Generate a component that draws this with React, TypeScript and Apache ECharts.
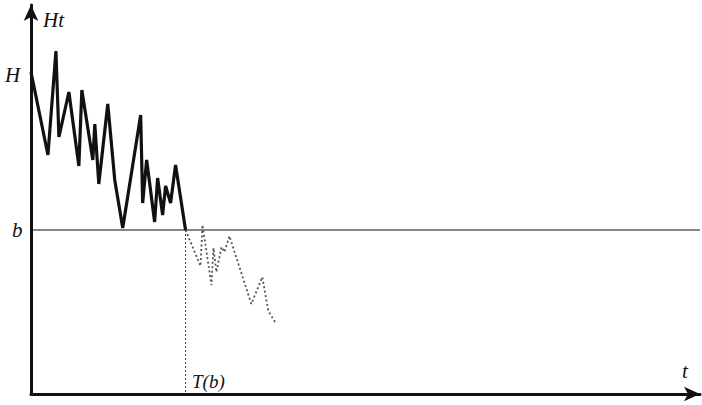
import React, { useEffect, useRef } from "react";
import * as echarts from "echarts";

// time (t) and level values
const pathT = [0, 17, 25, 28, 38, 48, 51, 62, 64, 68, 77, 84, 92, 110, 112, 116, 124, 127, 132, 135, 140, 145, 155];
const pathH = [322, 239, 343, 257, 302, 228, 304, 234, 270, 210, 290, 214, 166, 279, 191, 234, 172, 216, 179, 208, 191, 229, 164];
const contT = [155, 170, 172, 181, 183, 186, 191, 194, 199, 221, 232, 238, 246];
const contH = [164, 128, 169, 109, 146, 122, 147, 142, 158, 90, 117, 83, 70];
const levelH = 322;
const levelB = 164;
const hitT = 155;
const tMax = 671;
const hMax = 389;

export default function App() {
  const ref = useRef<HTMLDivElement>(null);
  useEffect(() => {
    const chart = echarts.init(ref.current!, null, { renderer: "svg" });
    const solid = pathT.map((t, i) => [t, pathH[i]]);
    const dotted = contT.map((t, i) => [t, contH[i]]);
    const font = "'Liberation Serif', 'DejaVu Serif', serif";
    const txt = (x: number, y: number, text: string, size = 21) => ({
      type: "text",
      x,
      y,
      style: { text, font: `italic ${size}px ${font}`, fill: "#111", verticalAlign: "middle", align: "left" },
    });
    chart.setOption({
      animation: false,
      backgroundColor: "#fff",
      grid: { left: 31, right: 2, top: 5, bottom: 11, containLabel: false },
      xAxis: {
        type: "value",
        min: 0,
        max: tMax,
        axisLine: { show: true, lineStyle: { color: "#111", width: 3 }, symbol: ["none", "arrow"], symbolSize: [11, 16], symbolOffset: [0, 0] },
        axisTick: { show: false },
        axisLabel: { show: false },
        splitLine: { show: false },
      },
      yAxis: {
        type: "value",
        min: 0,
        max: hMax,
        axisLine: { show: true, lineStyle: { color: "#111", width: 3 }, symbol: ["none", "arrow"], symbolSize: [11, 16], symbolOffset: [0, 0] },
        axisTick: { show: false },
        axisLabel: { show: false },
        splitLine: { show: false },
      },
      series: [
        {
          type: "line",
          data: [[0, levelB], [tMax, levelB]],
          symbol: "none",
          lineStyle: { color: "#111", width: 1.2 },
          z: 1,
        },
        {
          type: "line",
          data: [[hitT, levelB], [hitT, 0]],
          symbol: "none",
          lineStyle: { color: "#444", width: 1, type: [2, 2] },
          z: 1,
        },
        {
          type: "line",
          data: dotted,
          symbol: "none",
          lineStyle: { color: "#555", width: 1.8, type: [2, 2.5] },
          z: 2,
        },
        {
          type: "line",
          data: solid,
          symbol: "none",
          lineStyle: { color: "#111", width: 3.2, join: "miter" },
          z: 3,
        },
      ],
      graphic: [
        txt(43, 20, "Ht"),
        txt(5, 75, "H"),
        txt(12, 230, "b"),
        txt(682, 371, "t"),
        txt(192, 381, "T(b)", 19),
      ],
    });
    return () => chart.dispose();
  }, []);
  return <div ref={ref} style={{ position: "fixed", left: 0, top: 0, width: 702, height: 405 }} />;
}
